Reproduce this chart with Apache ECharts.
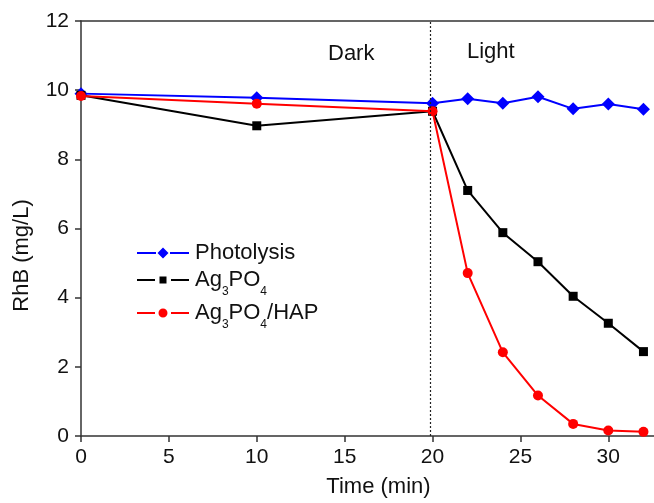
<!DOCTYPE html>
<html>
<head>
<meta charset="utf-8">
<script src="https://cdn.jsdelivr.net/npm/echarts@6/dist/echarts.min.js"></script>
<style>
  html, body { margin: 0; padding: 0; background: #fff; }
  #chart { width: 654px; height: 503px; }
</style>
</head>
<body>
<div id="chart"></div>
<script>
// time points (min)
const time = [0, 10, 20, 22, 24, 26, 28, 30, 32]
const photolysis = [9.90, 9.78, 9.62, 9.75, 9.62, 9.81, 9.46, 9.60, 9.45]
const ag3po4 = [9.85, 8.97, 9.39, 7.10, 5.88, 5.04, 4.04, 3.26, 2.44]
const ag3po4Hap = [9.83, 9.61, 9.39, 4.71, 2.42, 1.17, 0.35, 0.16, 0.12]
const lightOn = 19.85

const pairs = (ys) => time.map((t, i) => [t, ys[i]])
const font = 'Liberation Sans, Arial, sans-serif'
const axisColor = '#333'

const rich = {
  n: { fontSize: 22, fontFamily: font, color: '#111' },
  s: { fontSize: 12, fontFamily: font, color: '#111', padding: [24, 0, 0, 0] }
}
const legendLabel = (name) => {
  if (name === 'Ag3PO4') return '{n|Ag}{s|3}{n|PO}{s|4}'
  if (name === 'Ag3PO4/HAP') return '{n|Ag}{s|3}{n|PO}{s|4}{n|/HAP}'
  return '{n|' + name + '}'
}
// legend icons: line - gap - marker - gap - line
const icons = {
  Photolysis: 'path://M0,4.5h19v2h-19z M33,4.5h19v2h-19z M26,0L31.5,5.5L26,11L20.5,5.5z',
  Ag3PO4: 'path://M0,2.5h18v2h-18z M34,2.5h18v2h-18z M22.5,0h7v7h-7z',
  'Ag3PO4/HAP': 'path://M0,3.5h18v2h-18z M34,3.5h18v2h-18z M21.5,4.5a4.5,4.5 0 1,0 9,0a4.5,4.5 0 1,0 -9,0z'
}
const mkLegend = (name, top, h) => ({
  data: [{ name: name, icon: icons[name] }],
  left: 137,
  top: top,
  padding: 0,
  itemWidth: 52,
  itemHeight: h,
  formatter: legendLabel,
  textStyle: { rich: rich, padding: [0, 0, 0, 1] },
  selectedMode: false
})

const chart = echarts.init(document.getElementById('chart'), null, { renderer: 'canvas' })

chart.setOption({
  animation: false,
  backgroundColor: '#fff',
  grid: { left: 81, right: 0, top: 21, bottom: 67 },
  legend: [
    mkLegend('Photolysis', 242, 11),
    mkLegend('Ag3PO4', 269, 7),
    mkLegend('Ag3PO4/HAP', 302, 9)
  ],
  xAxis: [{
    type: 'value',
    min: 0,
    max: 32.6,
    interval: 5,
    name: 'Time (min)',
    nameLocation: 'middle',
    nameGap: 40,
    nameTextStyle: { fontSize: 22, fontFamily: font, color: '#111', padding: [0, 0, 0, 22] },
    axisLine: { lineStyle: { color: axisColor, width: 1.5 } },
    axisTick: { length: 6, lineStyle: { color: axisColor, width: 1.5 } },
    axisLabel: { fontSize: 21, fontFamily: font, color: '#111', margin: 11, showMaxLabel: false },
    splitLine: { show: false }
  }, {
    type: 'value',
    position: 'top',
    min: 0,
    max: 32.6,
    axisLine: { onZero: false, lineStyle: { color: axisColor, width: 1.5 } },
    axisTick: { show: false },
    axisLabel: { show: false },
    splitLine: { show: false }
  }],
  yAxis: {
    type: 'value',
    min: 0,
    max: 12,
    interval: 2,
    name: 'RhB (mg/L)',
    nameLocation: 'middle',
    nameGap: 48,
    nameTextStyle: { fontSize: 22, fontFamily: font, color: '#111', padding: [0, 54, 0, 0] },
    axisLine: { show: true, lineStyle: { color: axisColor, width: 1.5 } },
    axisTick: { show: true, length: 6, lineStyle: { color: axisColor, width: 1.5 } },
    axisLabel: { fontSize: 21, fontFamily: font, color: '#111', margin: 12 },
    splitLine: { show: false }
  },
  series: [
    {
      name: 'Photolysis',
      type: 'line',
      data: pairs(photolysis),
      symbol: 'diamond',
      symbolSize: 13,
      itemStyle: { color: '#0000ff' },
      lineStyle: { color: '#0000ff', width: 2 },
      markLine: {
        silent: true,
        symbol: 'none',
        label: { show: false },
        lineStyle: { color: '#222', type: [2, 2], width: 1.2 },
        data: [{ xAxis: lightOn }]
      }
    },
    {
      name: 'Ag3PO4',
      type: 'line',
      data: pairs(ag3po4),
      symbol: 'rect',
      symbolSize: 9,
      itemStyle: { color: '#000' },
      lineStyle: { color: '#000', width: 2 }
    },
    {
      name: 'Ag3PO4/HAP',
      type: 'line',
      data: pairs(ag3po4Hap),
      symbol: 'circle',
      symbolSize: 10,
      itemStyle: { color: '#ff0000' },
      lineStyle: { color: '#ff0000', width: 2 }
    }
  ],
  graphic: [
    { type: 'text', left: 328, top: 43, style: { text: 'Dark', font: '22px ' + font, fill: '#111' } },
    { type: 'text', left: 467, top: 41, style: { text: 'Light', font: '22px ' + font, fill: '#111' } }
  ]
})
</script>
</body>
</html>
